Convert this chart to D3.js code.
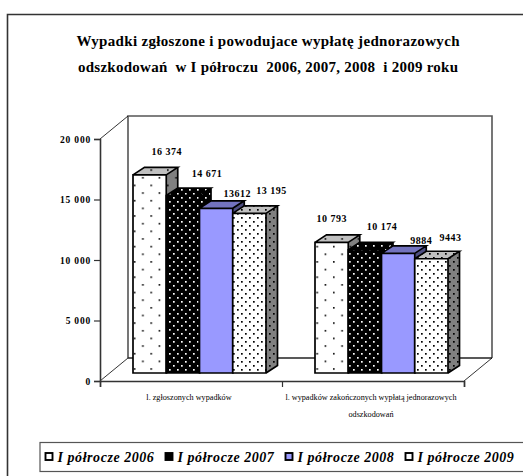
<!DOCTYPE html>
<html>
<head>
<meta charset="utf-8">
<script src="https://d3js.org/d3.v7.min.js"></script>
<style>
  html, body { margin: 0; padding: 0; background: #fff; overflow: hidden; }
  text { font-family: "Liberation Serif", serif; fill: #000; }
</style>
</head>
<body>
<script>
var w = 523,
    h = 476;

// Values
var categories = ['zgloszone', 'zakonczone'];
var categoryLines = [
  ['l. zgłoszonych wypadków'],
  ['l. wypadków zakończonych wypłatą jednorazowych', 'odszkodowań']
];
var seriesNames = ['I półrocze 2006', 'I półrocze 2007', 'I półrocze 2008', 'I półrocze 2009'];
var values2006 = [16374, 10793];
var values2007 = [14671, 10174];
var values2008 = [13612, 9884];
var values2009 = [13195, 9443];
var valueLabels = [
  ['16 374', '10 793'],
  ['14 671', '10 174'],
  ['13612', '9884'],
  ['13 195', '9443']
];
var yTicks = [0, 5000, 10000, 15000, 20000];
var titleLines = [
  'Wypadki zgłoszone i powodujace wypłatę jednorazowych',
  'odszkodowań  w I półroczu  2006, 2007, 2008  i 2009 roku'
];

var allValues = [values2006, values2007, values2008, values2009];

var svg = d3.select('body')
            .append('svg')
            .attr('width', w)
            .attr('height', h)
            .style('display', 'block');

var defs = svg.append('defs');

// Dot fills. cell = pattern size, dots are staggered
function dots(id, bg, fg, cell, size) {
  var p = defs.append('pattern')
              .attr('id', id)
              .attr('patternUnits', 'userSpaceOnUse')
              .attr('width', cell[0])
              .attr('height', cell[1]);
  p.append('rect').attr('width', cell[0]).attr('height', cell[1]).attr('fill', bg);
  [[0, 0], [cell[0] / 2, cell[1] / 2]].forEach(function(o) {
    p.append('rect')
     .attr('x', o[0] + 1)
     .attr('y', o[1] + 1)
     .attr('width', size)
     .attr('height', size)
     .attr('fill', fg);
  });
}

var sparse = [16.6, 15.3],
    dense = [8, 8];

dots('f0', '#fff', '#000', sparse, 1.6);
dots('t0', '#c0c0c0', '#000', sparse, 1.6);
dots('s0', '#808080', '#000', sparse, 1.6);
dots('f1', '#000', '#fff', dense, 1.7);
dots('t1', '#000', '#fff', dense, 1.7);
dots('s1', '#000', '#fff', dense, 1.7);
dots('f3', '#fff', '#000', dense, 1.7);
dots('t3', '#c0c0c0', '#000', dense, 1.7);
dots('s3', '#808080', '#000', dense, 1.7);

var faces = [
  { front: 'url(#f0)', top: 'url(#t0)', side: 'url(#s0)' },
  { front: 'url(#f1)', top: 'url(#t1)', side: 'url(#s1)' },
  { front: '#9999ff', top: '#7373bf', side: '#4d4d80' },
  { front: 'url(#f3)', top: 'url(#t3)', side: 'url(#s3)' }
];

// Outer frame, only top and left are in the crop
svg.append('path')
   .attr('d', 'M7.5,476V14.5H523')
   .attr('fill', 'none')
   .attr('stroke', '#333')
   .attr('stroke-width', 1.6);

// Title
svg.selectAll('.title')
   .data(titleLines)
   .enter()
   .append('text')
   .attr('class', 'title')
   .attr('x', 268)
   .attr('y', function(d, i) { return 46 + i * 25.5; })
   .attr('text-anchor', 'middle')
   .attr('font-size', 15)
   .attr('font-weight', 'bold')
   .attr('textLength', function(d, i) { return [383, 380][i]; })
   .attr('lengthAdjust', 'spacing')
   .style('white-space', 'pre')
   .text(function(d) { return d; });

var y = d3.scaleLinear()
          .domain([0, 20000])
          .range([381, 139]);

var xEdges = d3.scaleLinear()
               .domain([0, 2])
               .range([100, 464]);

var x0 = d3.scaleBand()
           .domain(categories)
           .range([100, 464]);

var barsWidth = 133;

var x1 = d3.scaleBand()
           .domain(d3.range(seriesNames.length))
           .range([0, barsWidth]);

// 3d offsets: floor depth and bar depth / position on floor
var floorDx = 28,
    floorDy = -23,
    barDx = 11.5,
    barDy = -7.5,
    shiftX = 8.5,
    shiftY = -8;

// Back wall
svg.append('path')
   .attr('d', 'M' + (100 + floorDx) + ',' + y(0) + 'm0,' + floorDy +
              'V' + (y(20000) + floorDy) + 'H' + (464 + floorDx) + 'V' + (y(0) + floorDy))
   .attr('fill', 'none')
   .attr('stroke', '#555')
   .attr('stroke-width', 1.6);

svg.append('line')
   .attr('x1', 100 + floorDx)
   .attr('x2', 464 + floorDx)
   .attr('y1', y(0) + floorDy)
   .attr('y2', y(0) + floorDy)
   .attr('stroke', '#222')
   .attr('stroke-width', 1.5);

// Depth lines on the side wall and floor
[[100, y(20000)], [100, y(0)], [464, y(0)]].forEach(function(p) {
  svg.append('line')
     .attr('x1', p[0])
     .attr('y1', p[1])
     .attr('x2', p[0] + floorDx)
     .attr('y2', p[1] + floorDy)
     .attr('stroke', '#000')
     .attr('stroke-width', 0.8);
});

// Axes
var yAxis = d3.axisLeft(y)
              .tickValues(yTicks)
              .tickSize(6)
              .tickFormat(function(d) { return d3.format(',')(d).replace(',', ' '); });

var yG = svg.append('g')
            .attr('transform', 'translate(100,0)')
            .call(yAxis);

yG.selectAll('text')
  .attr('font-size', 9.5)
  .attr('font-weight', 'bold')
  .attr('letter-spacing', 0.8)
  .style('font-family', '"Liberation Serif", serif');

var xAxis = d3.axisBottom(xEdges)
              .tickValues([0, 1, 2])
              .tickSize(6)
              .tickFormat('');

var xG = svg.append('g')
            .attr('transform', 'translate(0,' + y(0) + ')')
            .call(xAxis);

[yG, xG].forEach(function(g) {
  g.select('.domain').attr('stroke', '#333').attr('stroke-width', 1.6);
  g.selectAll('.tick line').attr('stroke', '#333').attr('stroke-width', 1.2);
});

// Bars, left to right so the next bar hides the side of the previous one
categories.forEach(function(cat, c) {
  var left = x0(cat) + (x0.bandwidth() - barsWidth) / 2 + shiftX;
  var g = svg.append('g').attr('class', 'group');

  allValues.forEach(function(vals, s) {
    var bx = left + x1(s),
        bw = x1.bandwidth(),
        top = y(vals[c]) + shiftY,
        base = y(0) + shiftY;

    g.append('path')
     .attr('d', 'M' + bx + ',' + top +
                'l' + barDx + ',' + barDy +
                'h' + bw +
                'l' + (-barDx) + ',' + (-barDy) + 'Z')
     .attr('fill', faces[s].top);

    g.append('path')
     .attr('d', 'M' + (bx + bw) + ',' + top +
                'l' + barDx + ',' + barDy +
                'V' + (base + barDy) +
                'L' + (bx + bw) + ',' + base + 'Z')
     .attr('fill', faces[s].side);

    g.append('rect')
     .attr('x', bx)
     .attr('y', top)
     .attr('width', bw)
     .attr('height', base - top)
     .attr('fill', faces[s].front);

    g.append('path')
     .attr('d', 'M' + bx + ',' + top +
                'l' + barDx + ',' + barDy +
                'h' + bw +
                'l' + (-barDx) + ',' + (-barDy) +
                'M' + (bx + bw + barDx) + ',' + (top + barDy) +
                'V' + (base + barDy) +
                'L' + (bx + bw) + ',' + base +
                'M' + bx + ',' + top + 'h' + bw + 'V' + base + 'H' + bx + 'Z')
     .attr('fill', 'none')
     .attr('stroke', '#000')
     .attr('stroke-width', 1.7);
  });
});

// Value labels were moved by hand in the original, so they get their own offsets
var labelShift = [
  [[17, -22.5], [0, -23.5]],
  [[24, -21], [17, -22.5]],
  [[21, -14], [23, -12.5]],
  [[22, -22], [19, -20.5]]
];

allValues.forEach(function(vals, s) {
  categories.forEach(function(cat, c) {
    var left = x0(cat) + (x0.bandwidth() - barsWidth) / 2 + shiftX;
    svg.append('text')
       .attr('x', left + x1(s) + x1.bandwidth() / 2 + labelShift[s][c][0])
       .attr('y', y(vals[c]) + shiftY + labelShift[s][c][1] + 3)
       .attr('text-anchor', 'middle')
       .attr('font-size', 10)
       .attr('font-weight', 'bold')
       .attr('letter-spacing', 0.5)
       .text(valueLabels[s][c]);
  });
});

// Category labels
categories.forEach(function(cat, c) {
  var cx = [189, 371][c];
  categoryLines[c].forEach(function(line, i) {
    svg.append('text')
       .attr('x', cx)
       .attr('y', 400 + i * 16.5)
       .attr('text-anchor', 'middle')
       .attr('font-size', 8.2)
       .attr('fill', '#222')
       .text(line);
  });
});

// Legend
svg.append('rect')
   .attr('x', 40)
   .attr('y', 442.5)
   .attr('width', 500)
   .attr('height', 29)
   .attr('fill', '#fff')
   .attr('stroke', '#555')
   .attr('stroke-width', 1.2);

var legend = svg.selectAll('.legend')
                .data(seriesNames)
                .enter()
                .append('g')
                .attr('class', 'legend')
                .attr('transform', function(d, i) { return 'translate(' + (45.5 + i * 120) + ',453)'; });

legend.append('rect')
      .attr('width', 7)
      .attr('height', 7)
      .attr('fill', function(d, i) { return i === 2 ? '#9999ff' : (i === 1 ? '#000' : '#fff'); })
      .attr('stroke', '#000')
      .attr('stroke-width', 1.9);

legend.append('text')
      .attr('x', 12)
      .attr('y', 8.5)
      .attr('font-size', 14)
      .attr('font-weight', 'bold')
      .attr('font-style', 'italic')
      .attr('letter-spacing', 0.55)
      .text(function(d) { return d; });
</script>
</body>
</html>
